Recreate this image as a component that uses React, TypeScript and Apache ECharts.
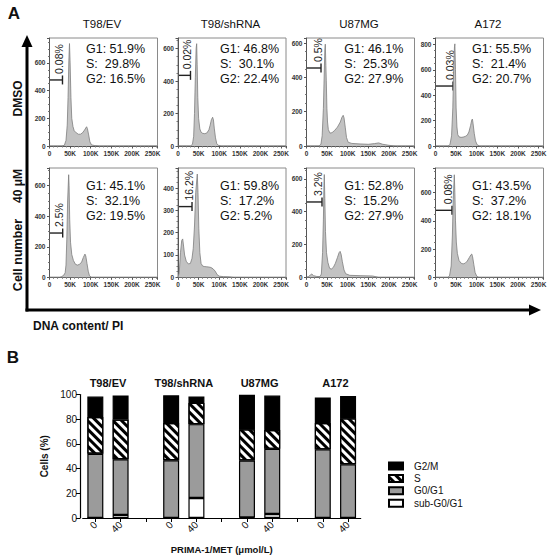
import React, { useEffect, useRef } from 'react';
import * as echarts from 'echarts';

const FONT = 'Liberation Sans, Arial, Helvetica, sans-serif';

// ---- Panel B data (also the numbers printed in panel A) ----
const cellLines = ['T98/EV', 'T98/shRNA', 'U87MG', 'A172'];
const doseLabels = ['0', '40', '', '0', '40', '', '0', '40', '', '0', '40'];
const subG0 = [0.08, 2.5, null, 0.02, 16.2, null, 0.5, 3.2, null, 0.03, 0.08];
const g0g1 = [51.9, 45.1, null, 46.8, 59.8, null, 46.1, 52.8, null, 55.5, 43.5];
const sPhase = [29.8, 32.1, null, 30.1, 17.2, null, 25.3, 15.2, null, 21.4, 37.2];
const g2m = [16.5, 19.5, null, 22.4, 5.2, null, 27.9, 27.9, null, 20.7, 18.1];

// ---- Panel A histograms: [DNA content (K), cell count] ----
const evDmso = [[0,0],[30,0],[36,5],[40,40],[43,150],[45,350],[47,620],[48.5,740],[50,600],[52,350],[54,200],[57,140],[60,110],[65,95],[70,85],[75,85],[80,95],[85,115],[88,130],[90,139],[92,125],[95,80],[98,30],[102,8],[110,3],[120,0],[262,0]];
const shDmso = [[0,0],[30,0],[35,10],[38,60],[40,200],[42,420],[44,600],[45.3,630],[46.5,500],[48,300],[50,170],[53,105],[56,85],[60,78],[65,76],[70,80],[75,100],[78,128],[81,162],[84,177],[86,160],[88,110],[91,50],[94,15],[98,4],[105,0],[262,0]];
const u87Dmso = [[0,0],[30,0],[35,10],[38,60],[41,220],[43,420],[44.5,560],[45.6,594],[47,470],[48,380],[49.5,220],[51,140],[53,95],[57,75],[62,78],[68,90],[75,110],[82,140],[86,168],[89,179],[91,165],[94,110],[97,50],[101,22],[110,15],[130,12],[150,10],[165,14],[175,18],[185,10],[200,4],[215,0],[262,0]];
const a172Dmso = [[0,0],[30,0],[35,10],[39,80],[42,300],[44,600],[46,780],[47,804],[48.5,600],[50,300],[52,150],[54,90],[57,72],[62,68],[67,70],[72,75],[77,85],[81,110],[85,160],[88,205],[89.5,212],[91,180],[94,100],[97,40],[101,10],[107,0],[262,0]];
const ev40 = [[0,0],[25,0],[30,5],[35,15],[38,30],[40,80],[42,250],[44,500],[46.5,672],[47.5,600],[49,380],[51,230],[54,150],[58,110],[63,85],[68,80],[73,85],[78,100],[82,130],[86,152],[88,140],[91,90],[94,40],[97,10],[102,0],[262,0]];
const sh40 = [[0,0],[3,20],[6,110],[9,165],[11.4,172],[13.5,140],[16,100],[20,72],[25,60],[30,62],[34,85],[37,130],[40,230],[43,380],[46.8,463],[48.5,380],[50.5,220],[53,110],[56,62],[60,50],[65,48],[70,47],[75,46],[80,44],[85,38],[90,28],[95,12],[100,5],[110,3],[125,2],[135,0],[262,0]];
const u8740 = [[0,0],[5,5],[10,15],[13,20],[17,10],[25,5],[33,5],[36,20],[39,150],[41,350],[42.3,560],[43.2,626],[44.5,480],[46,280],[48.5,150],[52,90],[56,55],[60,50],[65,60],[70,85],[75,120],[79,150],[81.5,158],[84,140],[87,95],[91,45],[95,22],[105,12],[130,10],[160,8],[175,0],[262,0]];
const a17240 = [[0,0],[30,0],[34,10],[38,80],[41,300],[43,550],[45.6,727],[47,600],[48.5,400],[50.5,250],[53,170],[57,120],[62,100],[67,95],[72,100],[77,115],[82,140],[86,160],[88,165],[90,145],[93,90],[96,35],[100,8],[105,0],[262,0]];

const histograms = [evDmso, shDmso, u87Dmso, a172Dmso, ev40, sh40, u8740, a17240];
const histMax = [780, 665, 630, 850, 716, 490, 666, 775];
const histInterval = [200, 200, 200, 200, 200, 100, 200, 200];
const gateEnd = [31.5, 30.3, 35.2, 42.5, 32, 34, 37.6, 40];
const gateLevel = [477, 435, 455, 472, 290, 317, 459, 475];

// ---- layout ----
const histLeft = [49.5, 178, 306.5, 435.5];
const histWidth = 108;
const histTop = [38, 168];
const histHeight = [108, 109.3];
const statDx = [36.5, 42, 37.8, 36.5];
const statY = [[49, 64, 79], [186, 201, 216]];

export default function App() {
  const ref = useRef<HTMLDivElement>(null);
  useEffect(() => {
    document.body.style.margin = '0';
    const chart = echarts.init(ref.current!, null, { renderer: 'svg' });
    const grids: any[] = [];
    const xAxes: any[] = [];
    const yAxes: any[] = [];
    const series: any[] = [];
    for (let i = 0; i < 8; i++) {
      const row = i < 4 ? 0 : 1;
      const col = i % 4;
      grids.push({
        left: histLeft[col], top: histTop[row], width: histWidth, height: histHeight[row],
        show: true, borderColor: '#8a8a8a', borderWidth: 1, backgroundColor: 'transparent', containLabel: false,
      });
      xAxes.push({
        gridIndex: i, type: 'value', min: 0, max: 262, interval: 50,
        axisLine: { show: true, lineStyle: { color: '#555', width: 1 } },
        axisTick: { show: true, length: 2.5, lineStyle: { color: '#555' } },
        minorTick: { show: true, splitNumber: 5, length: 1.5, lineStyle: { color: '#777' } },
        splitLine: { show: false },
        axisLabel: {
          fontSize: 6.5, fontWeight: 'bold', color: '#333', margin: 4, fontFamily: FONT,
          formatter: (v: number) => (v > 255 ? '' : v === 0 ? '0' : v + 'K'),
        },
      });
      const itv = histInterval[i];
      yAxes.push({
        gridIndex: i, type: 'value', min: 0, max: histMax[i], interval: itv,
        axisLine: { show: true, lineStyle: { color: '#555', width: 1 } },
        axisTick: { show: true, length: 2.5, lineStyle: { color: '#555' } },
        minorTick: { show: true, splitNumber: 4, length: 1.5, lineStyle: { color: '#777' } },
        splitLine: { show: false },
        axisLabel: {
          fontSize: 6.5, fontWeight: 'bold', color: '#333', margin: 4, fontFamily: FONT,
          formatter: (v: number) => (v % itv === 0 ? String(v) : ''),
        },
      });
      series.push({
        type: 'line', xAxisIndex: i, yAxisIndex: i, data: histograms[i],
        symbol: 'none', showSymbol: false, silent: true,
        lineStyle: { color: '#7d7d7d', width: 0.8 },
        areaStyle: { color: '#c2c2c2', opacity: 1 },
      });
    }
    // panel B
    grids.push({ left: 82.7, top: 394.5, width: 278, height: 123.5 });
    xAxes.push({
      gridIndex: 8, type: 'category', data: doseLabels,
      axisLine: { show: true, lineStyle: { color: '#000', width: 1.2 } },
      axisTick: { show: true, alignWithLabel: true, length: 4, lineStyle: { color: '#000', width: 1 } },
      axisLabel: { rotate: 45, fontSize: 10, color: '#111', margin: 5, interval: 0, fontFamily: FONT },
      name: 'PRIMA-1/MET (μmol/L)', nameLocation: 'middle', nameGap: 26,
      nameTextStyle: { fontWeight: 'bold', fontSize: 9.5, color: '#111', fontFamily: FONT },
    });
    yAxes.push({
      gridIndex: 8, type: 'value', min: 0, max: 100, interval: 20, offset: 2.7,
      axisLine: { show: true, lineStyle: { color: '#000', width: 1.2 } },
      axisTick: { show: true, length: 4, lineStyle: { color: '#000', width: 1 } },
      axisLabel: { fontSize: 10, color: '#111', margin: 3, fontFamily: FONT },
      splitLine: { show: false },
      name: 'Cells (%)', nameLocation: 'middle', nameGap: 21, nameRotate: 90,
      nameTextStyle: { fontWeight: 'bold', fontSize: 10, color: '#111', fontFamily: FONT },
    });
    const barBase = { type: 'bar', xAxisIndex: 8, yAxisIndex: 8, stack: 'total', barWidth: 16, silent: true };
    const border = { borderColor: '#000', borderWidth: 1.2 };
    series.push({ ...barBase, name: 'sub-G0/G1', data: subG0, itemStyle: { color: '#fff', ...border } });
    series.push({ ...barBase, name: 'G0/G1', data: g0g1, itemStyle: { color: '#9b9b9b', ...border } });
    series.push({
      ...barBase, name: 'S', data: sPhase,
      itemStyle: {
        color: '#fff', ...border,
        decal: { symbol: 'rect', symbolSize: 1, dashArrayX: [1, 0], dashArrayY: [2.5, 2.5], rotation: Math.PI / 4, color: '#000', backgroundColor: '#fff' },
      },
    });
    series.push({ ...barBase, name: 'G2/M', data: g2m, itemStyle: { color: '#000', ...border } });

    chart.setOption({
      animation: false,
      grid: grids, xAxis: xAxes, yAxis: yAxes, series,
      legend: {
        data: ['G2/M', 'S', 'G0/G1', 'sub-G0/G1'], orient: 'vertical', left: 383, top: 456,
        itemWidth: 14, itemHeight: 7, itemGap: 2.4, icon: 'rect', selectedMode: false,
        textStyle: { fontSize: 10, color: '#111', fontFamily: FONT, padding: [0, 0, 0, 6] },
      },
    });

    const g: any[] = [];
    const txt = (text: string, x: number, y: number, size: number, opts: any = {}) => ({
      type: 'text', x, y, rotation: opts.rotation || 0, silent: true,
      style: {
        text, fontSize: size, fontWeight: opts.bold ? 'bold' : 'normal', fontFamily: FONT,
        fill: opts.color || '#111', textAlign: opts.align || 'left', textVerticalAlign: opts.valign || 'middle',
      },
    });
    g.push(txt('A', 14, 13, 17, { bold: true, align: 'center' }));
    g.push(txt('B', 13, 357, 17, { bold: true, align: 'center' }));
    cellLines.forEach((name, c) => g.push(txt(name, histLeft[c] + histWidth / 2 - 1.5, 24, 11.5, { align: 'center' })));
    g.push(txt('DMSO', 18, 98.5, 12, { bold: true, align: 'center', rotation: Math.PI / 2 }));
    g.push(txt('40 μM', 18, 186, 12, { bold: true, align: 'center', rotation: Math.PI / 2 }));
    g.push(txt('Cell number', 18, 255, 12.5, { bold: true, align: 'center', rotation: Math.PI / 2 }));
    g.push(txt('DNA content/ PI', 33, 326, 12, { bold: true }));
    // arrows
    g.push({ type: 'line', silent: true, shape: { x1: 27, y1: 311.5, x2: 27, y2: 45 }, style: { stroke: '#000', lineWidth: 3 } });
    g.push({ type: 'polygon', silent: true, shape: { points: [[21.5, 47], [32.5, 47], [27, 35]] }, style: { fill: '#000' } });
    g.push({ type: 'line', silent: true, shape: { x1: 25.5, y1: 310, x2: 530, y2: 310 }, style: { stroke: '#000', lineWidth: 3 } });
    g.push({ type: 'polygon', silent: true, shape: { points: [[529, 304.5], [529, 315.5], [541, 310]] }, style: { fill: '#000' } });

    for (let i = 0; i < 8; i++) {
      const row = i < 4 ? 0 : 1;
      const col = i % 4;
      const bi = col * 3 + row;
      const sx = histLeft[col] + statDx[col];
      g.push(txt(`G1: ${g0g1[bi]}%`, sx, statY[row][0], 12.5));
      g.push(txt(`S:  ${sPhase[bi]}%`, sx, statY[row][1], 12.5));
      g.push(txt(`G2: ${g2m[bi]}%`, sx, statY[row][2], 12.5));
      const p0 = chart.convertToPixel({ gridIndex: i }, [0, gateLevel[i]]) as number[];
      const p1 = chart.convertToPixel({ gridIndex: i }, [gateEnd[i], gateLevel[i]]) as number[];
      g.push({ type: 'line', silent: true, shape: { x1: p0[0], y1: p0[1], x2: p1[0], y2: p1[1] }, style: { stroke: '#222', lineWidth: 1.4 } });
      g.push({ type: 'line', silent: true, shape: { x1: p1[0], y1: p1[1] - 4.5, x2: p1[0], y2: p1[1] + 4.5 }, style: { stroke: '#222', lineWidth: 1.4 } });
      g.push(txt(`${subG0[bi]}%`, p1[0] - 3.5, p1[1] - 6, 10.5, { rotation: Math.PI / 2, color: '#222' }));
    }
    cellLines.forEach((name, c) => {
      const a = chart.convertToPixel({ gridIndex: 8 }, [c * 3, 100]) as number[];
      const b = chart.convertToPixel({ gridIndex: 8 }, [c * 3 + 1, 100]) as number[];
      g.push(txt(name, (a[0] + b[0]) / 2, 383, 11, { bold: true, align: 'center' }));
    });
    chart.setOption({ graphic: g });
    return () => chart.dispose();
  }, []);
  return <div ref={ref} style={{ width: 550, height: 559 }} />;
}
